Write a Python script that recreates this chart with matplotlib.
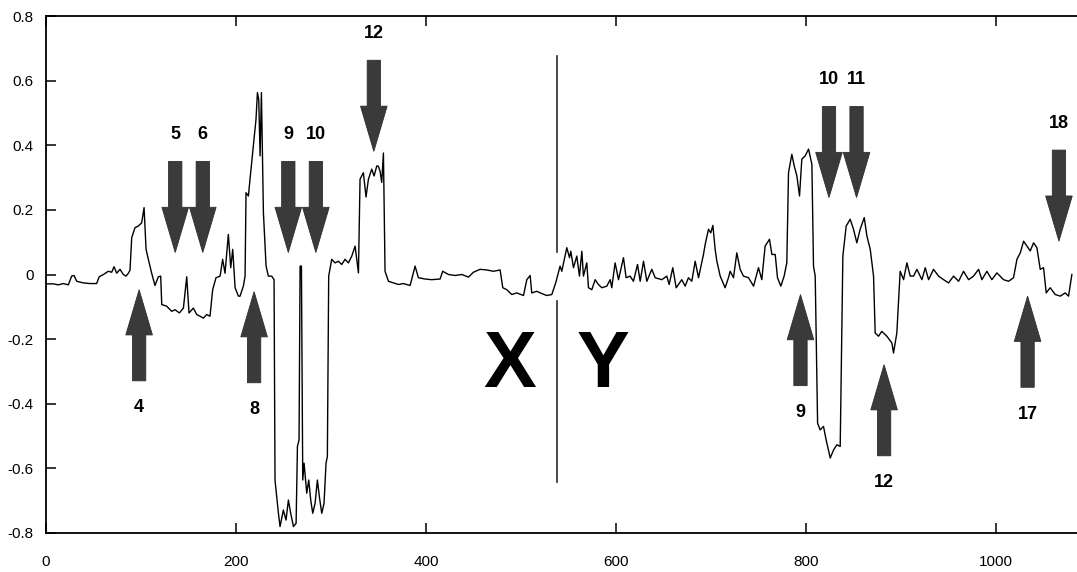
import matplotlib
matplotlib.use('Agg')
import matplotlib.pyplot as plt
from matplotlib.patches import FancyArrow
from matplotlib import font_manager

# ---- data ----
x = [0, 7.7, 13, 18.2, 23.5, 27, 29.5, 32.3, 39.3, 46.3, 53.3, 56, 60.4, 65.6, 69.1, 71.6, 74.4, 77.9,
     81.4, 84.2, 86.7, 88.4, 90.2, 93.7, 97.2, 100.7, 103.2, 105.3, 107.7, 111.2, 114.7, 118.2, 120.7,
     121.8, 127, 132.3, 135.8, 140.4, 144.6, 148.1, 150.5, 155.1, 158.6, 162.1, 165.6, 169.1, 172.6,
     175.4, 178.9, 183.2, 185.9, 188.4, 191.9, 194.4, 196.5, 199, 202.5, 204.2, 207.7, 209.5, 210.5,
     213, 214.7, 218.2, 221, 222.5, 223.9, 225.3, 226.7, 228.8, 231.6, 234, 237.5, 240, 241, 242.8,
     244.6, 246.3, 249.8, 252.6, 255.1, 257.5, 260.4, 263.2, 264.6, 266.3, 267.4, 268.8, 270.2, 271.6,
     274.4, 276.5, 278.6, 280.7, 283.2, 285.6, 287.7, 290.2, 292.6, 294.7, 296.1, 297.5, 300.7, 304.2,
     307.7, 311.2, 314.7, 318.2, 321.8, 325.3, 327, 328.8, 330.5, 334, 336.8, 339.3, 342.8, 345.3,
     348.1, 349.8, 351.6, 353.3, 355.1, 356.8, 360.4, 365.6, 370.9, 376.1, 383.2, 388.4, 391.9, 398.9,
     405.9, 414.7, 417.5, 423.5, 430.5, 437.5, 444.6, 449.8, 456.8, 463.9, 470.9, 477.9, 480.7, 484.9,
     490.2, 495.4, 502.5, 506, 509.5, 511.2, 516.5, 521.8, 527, 532.3, 536.5, 541, 542.8, 548.1, 550.9,
     552.3, 555.1, 558.6, 561.4, 563.9, 565.6, 569.1, 570.9, 574.4, 577.9, 581.4, 584.9, 590.2, 593.7,
     595.4, 598.9, 602.5, 607.7, 610.5, 614.7, 618.2, 622.5, 625.3, 628.8, 632.3, 637.5, 641.1, 648.1,
     653.3, 655.8, 659.6, 663.2, 669.1, 672.6, 676.1, 679.6, 683.2, 686.7, 691.9, 693.7, 697.2, 699.6,
     701.8, 704.2, 706, 709.5, 714.7, 718.2, 720, 723.5, 727, 730.5, 734, 739.3, 744.6, 749.8, 753.3,
     756.8, 761.4, 763.9, 767.4, 769.8, 773.3, 776.8, 779.6, 781.4, 784.9, 787.4, 790.2, 793, 795.4,
     798.9, 802.5, 806, 807.7, 809.5, 812, 814.7, 818.2, 821, 825.3, 828.8, 832.3, 835.8, 838.6, 842.1,
     846.3, 849.8, 853.3, 856.8, 861.1, 863.9, 867.4, 870.9, 872.6, 876.1, 879.6, 884.9, 890.2, 891.9,
     895.4, 898.9, 902.5, 906, 909.5, 913, 916.5, 921.8, 925.3, 928.8, 934, 939.3, 944.6, 949.8, 955.1,
     960.4, 965.6, 970.9, 976.1, 981.4, 984.9, 990.2, 995.4, 1000.7, 1007.7, 1013, 1018.2, 1021.8,
     1025.3, 1028.8, 1032.3, 1035.8, 1039.3, 1042.8, 1046.3, 1049.8, 1052.6, 1056.8, 1062.1, 1067.4,
     1072.6, 1076.1, 1079.6]
y = [-0.029, -0.029, -0.032, -0.028, -0.032, -0.005, -0.003, -0.021, -0.026, -0.028, -0.028, -0.007,
     0.0, 0.010, 0.007, 0.024, 0.004, 0.016, 0.0, -0.005, 0.004, 0.013, 0.114, 0.145, 0.150, 0.160,
     0.207, 0.078, 0.047, 0.004, -0.034, -0.007, -0.005, -0.093, -0.098, -0.114, -0.109, -0.119, -0.104,
     -0.007, -0.119, -0.104, -0.124, -0.129, -0.135, -0.124, -0.129, -0.047, -0.010, -0.005, 0.047,
     0.004, 0.124, 0.021, 0.078, -0.041, -0.067, -0.067, -0.036, -0.005, 0.253, 0.243, 0.295, 0.398,
     0.480, 0.563, 0.540, 0.367, 0.563, 0.191, 0.026, -0.005, -0.005, -0.016, -0.636, -0.688, -0.739,
     -0.780, -0.729, -0.760, -0.698, -0.739, -0.780, -0.770, -0.532, -0.512, 0.026, 0.026, -0.636,
     -0.584, -0.677, -0.636, -0.698, -0.739, -0.708, -0.636, -0.688, -0.739, -0.708, -0.584, -0.563,
     -0.005, 0.047, 0.036, 0.041, 0.031, 0.047, 0.036, 0.057, 0.088, 0.047, 0.005, 0.295, 0.315, 0.240,
     0.295, 0.326, 0.305, 0.336, 0.335, 0.319, 0.285, 0.376, 0.010, -0.021, -0.026, -0.031, -0.028,
     -0.034, 0.026, -0.010, -0.014, -0.016, -0.014, 0.010, 0.0, -0.003, 0.0, -0.008, 0.007, 0.016, 0.014,
     0.010, 0.014, -0.041, -0.047, -0.062, -0.057, -0.065, -0.016, -0.003, -0.057, -0.052, -0.059,
     -0.065, -0.062, -0.025, 0.026, 0.010, 0.083, 0.052, 0.072, 0.021, 0.057, -0.005, 0.072, -0.005,
     0.036, -0.041, -0.047, -0.016, -0.031, -0.041, -0.036, -0.016, -0.041, 0.036, -0.016, 0.052, -0.010,
     -0.005, -0.021, 0.031, -0.021, 0.041, -0.021, 0.016, -0.010, -0.016, -0.005, -0.031, 0.021, -0.041,
     -0.016, -0.036, -0.010, -0.021, 0.041, -0.010, 0.062, 0.093, 0.140, 0.129, 0.152, 0.078, 0.041,
     -0.005, -0.041, -0.010, 0.010, -0.010, 0.067, 0.016, -0.005, -0.010, -0.036, 0.021, -0.016, 0.088,
     0.109, 0.062, 0.062, -0.010, -0.036, -0.005, 0.036, 0.315, 0.372, 0.336, 0.305, 0.243, 0.357,
     0.367, 0.388, 0.341, 0.026, -0.005, -0.460, -0.481, -0.470, -0.512, -0.568, -0.543, -0.527, -0.532,
     0.057, 0.150, 0.171, 0.140, 0.098, 0.140, 0.176, 0.119, 0.078, -0.005, -0.181, -0.191, -0.176,
     -0.191, -0.212, -0.243, -0.181, 0.010, -0.016, 0.036, -0.005, -0.005, 0.016, -0.016, 0.021, -0.016,
     0.016, -0.005, -0.016, -0.026, -0.005, -0.021, 0.010, -0.016, -0.005, 0.016, -0.016, 0.010, -0.016,
     0.005, -0.016, -0.021, -0.010, 0.047, 0.067, 0.103, 0.088, 0.073, 0.098, 0.083, 0.016, 0.021,
     -0.057, -0.041, -0.062, -0.067, -0.057, -0.067, 0.0]

xtick_values = [0, 200, 400, 600, 800, 1000]
xtick_labels = ['0', '200', '400', '600', '800', '1000']
ytick_values = [-0.8, -0.6, -0.4, -0.2, 0, 0.2, 0.4, 0.6, 0.8]
ytick_labels = ['-0.8', '-0.6', '-0.4', '-0.2', '0', '0.2', '0.4', '0.6', '0.8']

arrow_labels = ['4', '5', '6', '8', '9', '10', '12', '10', '11', '9', '12', '17', '18']
arrow_x = [98, 136, 165, 219, 255, 284, 345, 824, 853, 794, 882, 1033, 1066]
arrow_tip = [-0.047, 0.068, 0.068, -0.053, 0.068, 0.068, 0.381, 0.238, 0.238, -0.062, -0.279, -0.067, 0.103]
arrow_dir = ['up', 'down', 'down', 'up', 'down', 'down', 'down', 'down', 'down', 'up', 'up', 'up', 'down']

divider_x = 537.5
divider_spans = [(0.07, 0.675), (-0.643, -0.083)]
region_labels = ['X', 'Y']
region_x = [488, 586]
region_y = -0.286

# ---- fonts ----
names = {f.name for f in font_manager.fontManager.ttflist}
tick_font = 'Liberation Sans Narrow' if 'Liberation Sans Narrow' in names else 'Liberation Sans'
tick_size = 12 if tick_font == 'Liberation Sans Narrow' else 11

# ---- figure ----
W, H = 1077, 572
fig = plt.figure(figsize=(W / 100, H / 100), dpi=100)
ax = fig.add_axes([46 / W, 39 / H, 1031 / W, 517 / H])
ax.plot(x, y, color='black', lw=1.0, zorder=3)
ax.set_xlim(0, 1085)
ax.set_ylim(-0.8, 0.8)

for s in ['left', 'bottom', 'top']:
    ax.spines[s].set_linewidth(1.3)
ax.spines['right'].set_visible(False)
ax.set_xticks(xtick_values)
ax.set_xticklabels(xtick_labels)
ax.set_yticks(ytick_values)
ax.set_yticklabels(ytick_labels)
ax.tick_params(direction='in', length=7, width=1.1, top=True, right=False,
               labelsize=tick_size, colors='black')
ax.tick_params(axis='x', pad=16)
ax.tick_params(axis='y', pad=9)
for lab in ax.get_xticklabels() + ax.get_yticklabels():
    lab.set_family(tick_font)

L = 0.282
HL = 0.14
for lab, xa, tip, d in zip(arrow_labels, arrow_x, arrow_tip, arrow_dir):
    if d == 'down':
        start, dy, ty = tip + L, -L, tip + L + 0.083
    else:
        start, dy, ty = tip - L, L, tip - L - 0.083
    ax.add_patch(FancyArrow(xa, start, 0, dy, width=14, head_width=28, head_length=HL,
                            length_includes_head=True, facecolor='#3a3a3a',
                            edgecolor='#2e2e2e', lw=0.6, zorder=4))
    ax.text(xa, ty, lab, ha='center', va='center', fontsize=13, fontweight='bold',
            family='Liberation Sans', color='black', zorder=5)

for y0, y1 in divider_spans:
    ax.plot([divider_x, divider_x], [y0, y1], color='#2a2a2a', lw=1.2, zorder=2)

for lab, xr in zip(region_labels, region_x):
    ax.text(xr, region_y, lab, ha='center', va='center', fontsize=57, fontweight='bold',
            family='Liberation Sans', color='black')

fig.savefig('out.png', dpi=100)
